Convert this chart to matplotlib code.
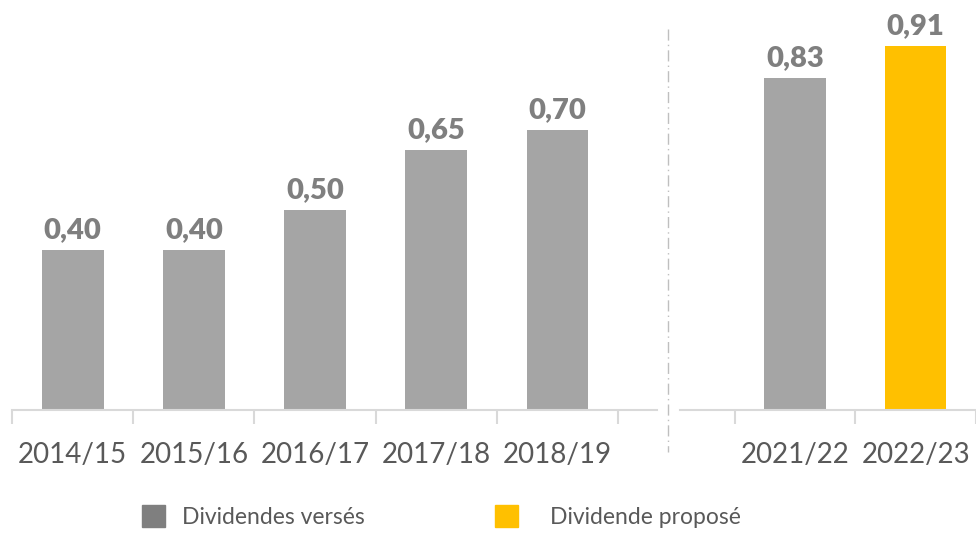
import matplotlib.pyplot as plt
from matplotlib.patches import Rectangle
from matplotlib.lines import Line2D

years_left = ['2014/15', '2015/16', '2016/17', '2017/18', '2018/19']
values_left = [0.40, 0.40, 0.50, 0.65, 0.70]
years_right = ['2021/22', '2022/23']
values_right = [0.83, 0.91]

GREY = '#A5A5A5'
YELLOW = '#FFC000'
AXIS = '#D9D9D9'

plt.rcParams['font.family'] = ['Lato', 'DejaVu Sans']

fig = plt.figure(figsize=(9.76, 5.34), dpi=100)
W, H = 976, 534


def px_axes(x0, x1, y_base=410, y_top=10):
    return fig.add_axes([x0 / W, (H - y_base) / H, (x1 - x0) / W, (y_base - y_top) / H])


def style(ax, labels, values, colors, xlim):
    x = list(range(len(labels)))
    bars = ax.bar(x, values, width=0.51, color=colors)
    ax.bar_label(bars, labels=[f"{v:.2f}".replace('.', ',') for v in values],
                 padding=5, fontsize=21, fontweight='heavy', color='#7F7F7F')
    ax.set_ylim(0, 1.0)
    ax.set_xlim(*xlim)
    ax.set_xticks(x)
    ax.set_xticklabels(labels, fontsize=20, color='#595959')
    ax.tick_params(axis='x', which='major', length=0, pad=23)
    ax.set_xticks([i - 0.5 for i in range(len(labels) + 1)], minor=True)
    ax.tick_params(axis='x', which='minor', length=10, color=AXIS, width=1.5)
    ax.set_yticks([])
    for s in ['top', 'right', 'left']:
        ax.spines[s].set_visible(False)
    ax.spines['bottom'].set_color(AXIS)
    ax.spines['bottom'].set_linewidth(1.5)


ax1 = px_axes(12, 657)
style(ax1, years_left, values_left, GREY, (-0.5, 4.82))

ax2 = px_axes(680, 976)
style(ax2, years_right, values_right, [GREY, YELLOW], (-0.955, 1.5))

# separator
fig.add_artist(Line2D([668 / W, 668 / W], [1 - 29 / H, 1 - 452 / H],
                      transform=fig.transFigure, color='#BFBFBF',
                      linestyle=(0, (8, 3, 1, 3)), linewidth=1))

# legend
for x0, tx, col, txt in [(142, 182, '#7F7F7F', 'Dividendes versés'),
                         (495, 550, YELLOW, 'Dividende proposé')]:
    fig.add_artist(Rectangle((x0 / W, 1 - 527 / H), 23 / W, 22 / H,
                             transform=fig.transFigure, color=col))
    fig.text(tx / W, 1 - 517 / H, txt, fontsize=16.5, color='#595959', va='center')

fig.savefig('out.png', dpi=100)
